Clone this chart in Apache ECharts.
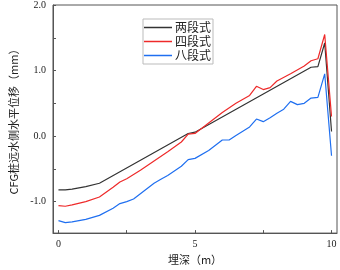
<!DOCTYPE html>
<html>
<head>
<meta charset="utf-8">
<script src="https://cdn.jsdelivr.net/npm/echarts@6/dist/echarts.min.js"></script>
<style>
  html, body { margin: 0; padding: 0; background: #fff; }
  #chart { width: 340px; height: 270px; }
</style>
</head>
<body>
<div id="chart"></div>
<script>
// depth (m) / displacement (mm)
const twoStage = [
  [0, -0.82], [0.25, -0.82], [0.5, -0.81], [1, -0.77], [1.5, -0.72],
  [4.75, 0.04], [5, 0.06], [9.25, 1.05], [9.5, 1.06], [9.75, 1.42], [10, 0.07]
];
const fourStage = [
  [0, -1.06], [0.25, -1.07], [0.5, -1.05], [1, -1.0], [1.5, -0.93], [2, -0.78],
  [2.25, -0.70], [2.5, -0.65], [3, -0.52], [3.5, -0.38], [4, -0.24], [4.5, -0.09],
  [4.75, 0.03], [5, 0.04], [5.5, 0.20], [6, 0.36], [6.5, 0.50], [7, 0.62],
  [7.25, 0.76], [7.5, 0.71], [7.75, 0.74], [8, 0.84], [8.5, 0.95], [9, 1.07],
  [9.25, 1.15], [9.5, 1.18], [9.75, 1.55], [10, 0.30]
];
const eightStage = [
  [0, -1.29], [0.25, -1.32], [0.5, -1.31], [1, -1.27], [1.5, -1.21], [2, -1.10],
  [2.25, -1.03], [2.5, -1.0], [2.75, -0.96], [3, -0.88], [3.5, -0.72], [3.75, -0.66],
  [4, -0.60], [4.5, -0.46], [4.75, -0.36], [5, -0.34], [5.5, -0.22], [6, -0.06],
  [6.25, -0.06], [6.5, 0.01], [7, 0.14], [7.25, 0.26], [7.5, 0.22], [7.75, 0.28],
  [8, 0.35], [8.25, 0.41], [8.5, 0.53], [8.75, 0.48], [9, 0.50], [9.25, 0.58],
  [9.5, 0.59], [9.75, 0.95], [10, -0.30]
];
const xTicks = [0, 2.5, 5, 7.5, 10];
const xLabels = [0, 5, 10];
const yTicks = [-1, -0.5, 0, 0.5, 1, 1.5, 2];
const yLabels = [-1, 0, 1, 2];

const serif = '"Liberation Serif", "DejaVu Serif", serif';
const cjk = '"Noto Sans CJK SC", sans-serif';
const axisColor = '#555';

const chart = echarts.init(document.getElementById('chart'), null, { renderer: 'canvas' });

const line = (name, data, color) => ({
  name, type: 'line', data, showSymbol: false, symbol: 'none',
  lineStyle: { color, width: 1.2 }, itemStyle: { color },
  animation: false
});

chart.setOption({
  animation: false,
  grid: {
    left: 49, right: 3, top: 5, bottom: 32,
    show: true, borderColor: axisColor, borderWidth: 1
  },
  legend: {
    orient: 'vertical', left: 143, top: 19,
    padding: [2, 2, 2, 1], itemGap: 1,
    itemWidth: 28, itemHeight: 1.5, icon: 'rect',
    borderColor: '#bbb', borderWidth: 1,
    textStyle: { fontFamily: cjk, fontSize: 12, color: '#222', lineHeight: 13, padding: [0, 0, 0, -2] },
    data: ['两段式', '四段式', '八段式']
  },
  xAxis: {
    type: 'value', min: -0.2, max: 10.2,
    name: '埋深（m）', nameLocation: 'middle', nameGap: 20,
    nameTextStyle: { fontFamily: cjk, fontSize: 11, color: '#222' },
    axisLine: { show: true, onZero: false, lineStyle: { color: axisColor } },
    axisTick: { show: true, inside: true, length: 3, customValues: xTicks, lineStyle: { color: axisColor } },
    axisLabel: { customValues: xLabels, fontFamily: serif, fontSize: 10, color: '#222', margin: 6 },
    splitLine: { show: false }
  },
  yAxis: {
    type: 'value', min: -1.48, max: 2.0,
    name: 'CFG桩远水侧水平位移（mm）', nameLocation: 'middle', nameGap: 34,
    nameTextStyle: { fontFamily: cjk, fontSize: 11, color: '#222' },
    axisLine: { show: true, onZero: false, lineStyle: { color: axisColor } },
    axisTick: { show: true, inside: true, length: 3, customValues: yTicks, lineStyle: { color: axisColor } },
    axisLabel: {
      customValues: yLabels, fontFamily: serif, fontSize: 10, color: '#222', margin: 7,
      formatter: v => v.toFixed(1)
    },
    splitLine: { show: false }
  },
  series: [
    line('两段式', twoStage, '#333333'),
    line('四段式', fourStage, '#ee2a2a'),
    line('八段式', eightStage, '#1f6ff0')
  ]
});
</script>
</body>
</html>
